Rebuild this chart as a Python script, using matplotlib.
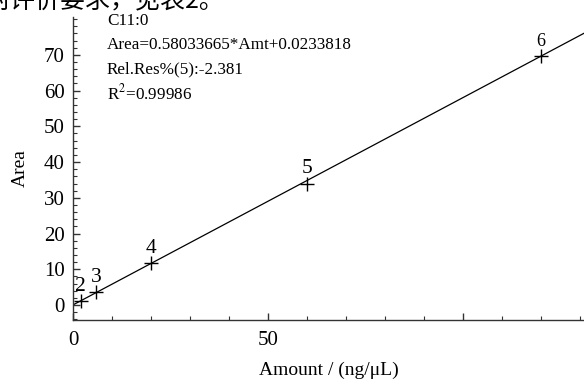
import matplotlib
matplotlib.use("Agg")
import matplotlib.pyplot as plt
import numpy as np
from matplotlib.ticker import MultipleLocator, FixedLocator

# Data
point_labels = ["2", "3", "4", "5", "6"]
amounts = [2, 6, 20, 60, 120]
areas = [1.18, 3.5, 11.7, 34.0, 69.7]
slope = 0.58033665
intercept = 0.0233818
info_lines = ["C11:0", "Area=0.58033665*Amt+0.0233818", "Rel.Res%(5):-2.381", "R$^2$=0.99986"]
x_ticks = [0, 50, 100]
x_tick_labels = ["0", "50", ""]
header_text = "对评价要求，见表2。"

W, H = 584, 383
fig = plt.figure(figsize=(W / 100, H / 100), dpi=100)
plt.rcParams['font.family'] = ['Liberation Serif', 'DejaVu Serif']
plt.rcParams['mathtext.fontset'] = 'stix'

left, right, top, bottom = 73, 584, 17, 320
ax = fig.add_axes([left / W, 1 - bottom / H, (right - left) / W, (bottom - top) / H])
ax.set_xlim(0, 131)
ax.set_ylim(-4.2, 80.6)

xl = np.array(ax.get_xlim())
ax.plot(xl, slope * xl + intercept, color='black', lw=0.9, clip_on=True)
ax.plot(amounts, areas, linestyle='none', marker='+', ms=10, mew=1.0, color='black')
for lbl, xv, yv in zip(point_labels, amounts, areas):
    fs = 13 if lbl == "6" else 15.5
    ax.annotate(lbl, (xv, yv), xytext=(0, 10.5), textcoords='offset points',
                ha='center', va='center', fontsize=fs, family='Liberation Serif')

for sp in ['top', 'right']:
    ax.spines[sp].set_visible(False)
for sp in ['left', 'bottom']:
    ax.spines[sp].set_linewidth(1.0)
    ax.spines[sp].set_color('#333333')

ax.xaxis.set_major_locator(FixedLocator(x_ticks))
ax.set_xticklabels(x_tick_labels)
ax.xaxis.set_minor_locator(MultipleLocator(10))
ax.yaxis.set_major_locator(MultipleLocator(10))
ax.yaxis.set_minor_locator(MultipleLocator(2))
ax.set_yticks([0, 10, 20, 30, 40, 50, 60, 70])
ax.tick_params(which='major', direction='in', length=5, width=1, labelsize=15, pad=6, color='#333333')
ax.tick_params(which='minor', direction='in', length=3, width=0.8, color='#333333')
ax.tick_params(axis='x', which='major', pad=8)

ax.set_xlabel("Amount / (ng/μL)", fontsize=14,
              family=['Liberation Serif', 'DejaVu Serif'], va='center')
ax.set_ylabel("Area", fontsize=14, va='center')
ax.xaxis.set_label_coords(0.5, -(370 - bottom) / (bottom - top))
ax.yaxis.set_label_coords(-(left - 20) / (right - left), 0.5)

for i, line in enumerate(info_lines):
    fig.text(107 / W, 1 - (21 + 24 * i) / H, line, fontsize=12.3, va='center', ha='left')

fig.text(-14 / W, 1 - 7 / H, header_text, fontsize=18, va='baseline', ha='left',
         family=['Noto Sans CJK SC', 'DejaVu Sans'])

fig.savefig("out.png", dpi=100)
